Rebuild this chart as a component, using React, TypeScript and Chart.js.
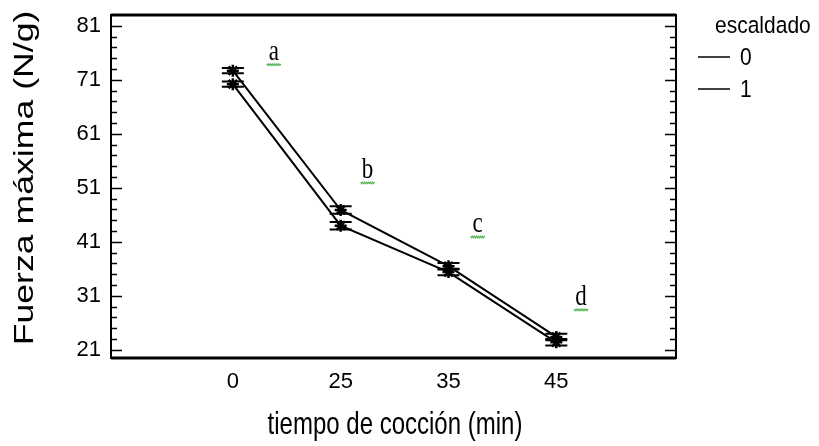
import React, { useEffect, useRef } from 'react';
import { Chart, registerables } from 'chart.js';

Chart.register(...registerables);

// ---- data ----
const categories = ['0', '25', '35', '45'];
const seriesNames = ['0', '1'];
const escaldado0 = [72.7, 46.9, 36.5, 23.4];
const escaldado1 = [70.2, 44.0, 35.4, 22.4];
const err0 = [0.5, 0.7, 0.6, 0.6];
const err1 = [0.5, 0.7, 0.6, 0.6];
const yTicks = [21, 31, 41, 51, 61, 71, 81];
const groupLetters = ['a', 'b', 'c', 'd'];
const letterX = [0.38, 1.25, 2.27, 3.23];
const letterY = [74.7, 52.8, 42.8, 29.3];
const legendTitle = 'escaldado';
const xTitle = 'tiempo de cocción (min)';
const yTitle = 'Fuerza máxima (N/g)';

const SANS = '"Liberation Sans", Arial, sans-serif';
const SERIF = '"Liberation Serif", "Times New Roman", serif';

function stretchedText(
  ctx: CanvasRenderingContext2D,
  text: string,
  x: number,
  y: number,
  font: string,
  sx: number,
  sy: number,
  rot: number,
  align: CanvasTextAlign,
) {
  ctx.save();
  ctx.translate(x, y);
  if (rot) ctx.rotate(rot);
  ctx.scale(sx, sy);
  ctx.font = font;
  ctx.textAlign = align;
  ctx.textBaseline = 'alphabetic';
  ctx.fillStyle = '#000';
  ctx.fillText(text, 0, 0);
  ctx.restore();
}

const decorPlugin = {
  id: 'decor',
  afterDatasetsDraw(chart: any) {
    const ctx: CanvasRenderingContext2D = chart.ctx;
    const xs = chart.scales.x;
    const ys = chart.scales.y;
    const errs = [err0, err1];
    const vals = [escaldado0, escaldado1];
    ctx.save();
    ctx.strokeStyle = '#000';
    ctx.lineWidth = 2;
    vals.forEach((arr, si) => {
      arr.forEach((v, j) => {
        const px = xs.getPixelForValue(j);
        const t = ys.getPixelForValue(v + errs[si][j]);
        const b = ys.getPixelForValue(v - errs[si][j]);
        ctx.beginPath();
        ctx.moveTo(px, t);
        ctx.lineTo(px, b);
        ctx.moveTo(px - 11, t);
        ctx.lineTo(px + 11, t);
        ctx.moveTo(px - 11, b);
        ctx.lineTo(px + 11, b);
        ctx.stroke();
      });
    });
    ctx.restore();
  },
  afterDraw(chart: any) {
    const ctx: CanvasRenderingContext2D = chart.ctx;
    const { left, right, top, bottom } = chart.chartArea;
    const ys = chart.scales.y;
    const xs = chart.scales.x;
    ctx.save();
    // frame
    ctx.strokeStyle = '#000';
    ctx.lineWidth = 2;
    ctx.strokeRect(left, top, right - left, bottom - top);
    ctx.lineWidth = 3;
    ctx.beginPath();
    ctx.moveTo(left, top);
    ctx.lineTo(right, top);
    ctx.moveTo(left, bottom);
    ctx.lineTo(right, bottom);
    ctx.stroke();
    // inward ticks left & right
    ctx.lineWidth = 1.5;
    for (let v = yTicks[0]; v <= ys.max; v += 2) {
      const major = yTicks.includes(v);
      const py = Math.round(ys.getPixelForValue(v)) + 0.5;
      if (py < top + 2) continue;
      const len = major ? 11 : 6;
      ctx.beginPath();
      ctx.moveTo(left, py);
      ctx.lineTo(left + len, py);
      ctx.moveTo(right, py);
      ctx.lineTo(right - len, py);
      ctx.stroke();
    }
    // group letters with squiggles
    groupLetters.forEach((l, i) => {
      const px = xs.getPixelForValue(letterX[i]);
      const py = ys.getPixelForValue(letterY[i]);
      stretchedText(ctx, l, px, py, `23px ${SERIF}`, 1, 1.3, 0, 'center');
      ctx.strokeStyle = '#5cb85c';
      ctx.lineWidth = 1.2;
      ctx.beginPath();
      const sy = py + 4;
      for (let k = 0; k <= 14; k++) {
        const xx = px - 7 + k;
        const yy = sy + (k % 2 === 0 ? 0 : 1.6);
        if (k === 0) ctx.moveTo(xx, yy);
        else ctx.lineTo(xx, yy);
      }
      ctx.stroke();
    });
    // axis titles
    stretchedText(ctx, yTitle, 33, 178, `27px ${SANS}`, 1.32, 1, -Math.PI / 2, 'center');
    stretchedText(ctx, xTitle, 395, 434, `24px ${SANS}`, 1, 1.3, 0, 'center');
    // legend
    stretchedText(ctx, legendTitle, 715, 33, `21px ${SANS}`, 1, 1.1, 0, 'left');
    const ly = [57, 89];
    seriesNames.forEach((n, i) => {
      ctx.strokeStyle = '#000';
      ctx.lineWidth = 1.5;
      ctx.beginPath();
      ctx.moveTo(698, ly[i]);
      ctx.lineTo(730, ly[i]);
      ctx.stroke();
      stretchedText(ctx, n, 740, ly[i] + 8, `21px ${SANS}`, 1, 1.1, 0, 'left');
    });
    ctx.restore();
  },
};

export default function App() {
  const ref = useRef<HTMLCanvasElement | null>(null);
  useEffect(() => {
    if (!ref.current) return;
    const mk = (arr: number[]) => arr.map((v, i) => ({ x: i, y: v }));
    const ds = (label: string, arr: number[]) => ({
      label,
      data: mk(arr),
      borderColor: '#000',
      backgroundColor: '#000',
      borderWidth: 2,
      pointStyle: 'star',
      pointRadius: 6,
      pointBorderWidth: 2.5,
      tension: 0,
    });
    const chart = new Chart(ref.current, {
      type: 'line',
      data: {
        datasets: [ds(seriesNames[0], escaldado0), ds(seriesNames[1], escaldado1)],
      },
      options: {
        responsive: false,
        animation: false,
        devicePixelRatio: 1,
        layout: { padding: { top: 15, right: 143, left: 0, bottom: 0 } },
        plugins: { legend: { display: false }, tooltip: { enabled: false } },
        scales: {
          x: {
            type: 'linear',
            min: -1.13,
            max: 4.11,
            afterBuildTicks: (ax: any) => {
              ax.ticks = categories.map((_, i) => ({ value: i }));
            },
            afterFit: (ax: any) => {
              ax.height = 88;
              ax.paddingLeft = 0;
              ax.paddingRight = 0;
            },
            grid: { display: false, drawTicks: false },
            border: { display: false },
            ticks: {
              autoSkip: false,
              maxRotation: 0,
              padding: 11,
              color: '#000',
              font: { family: SANS, size: 22 },
              callback: (v: any) => categories[Number(v)] ?? '',
            },
          },
          y: {
            type: 'linear',
            min: 19.5,
            max: 83,
            afterBuildTicks: (ax: any) => {
              ax.ticks = yTicks.map((v) => ({ value: v }));
            },
            afterFit: (ax: any) => {
              ax.width = 111;
              ax.paddingTop = 0;
              ax.paddingBottom = 0;
            },
            grid: { display: false, drawTicks: false },
            border: { display: false },
            ticks: {
              autoSkip: false,
              padding: 10,
              color: '#000',
              font: { family: SANS, size: 22 },
            },
          },
        },
      },
      plugins: [decorPlugin],
    } as any);
    return () => chart.destroy();
  }, []);
  return (
    <div style={{ position: 'absolute', left: 0, top: 0, width: 819, height: 446, background: '#fff' }}>
      <canvas ref={ref} width={819} height={446} />
    </div>
  );
}
